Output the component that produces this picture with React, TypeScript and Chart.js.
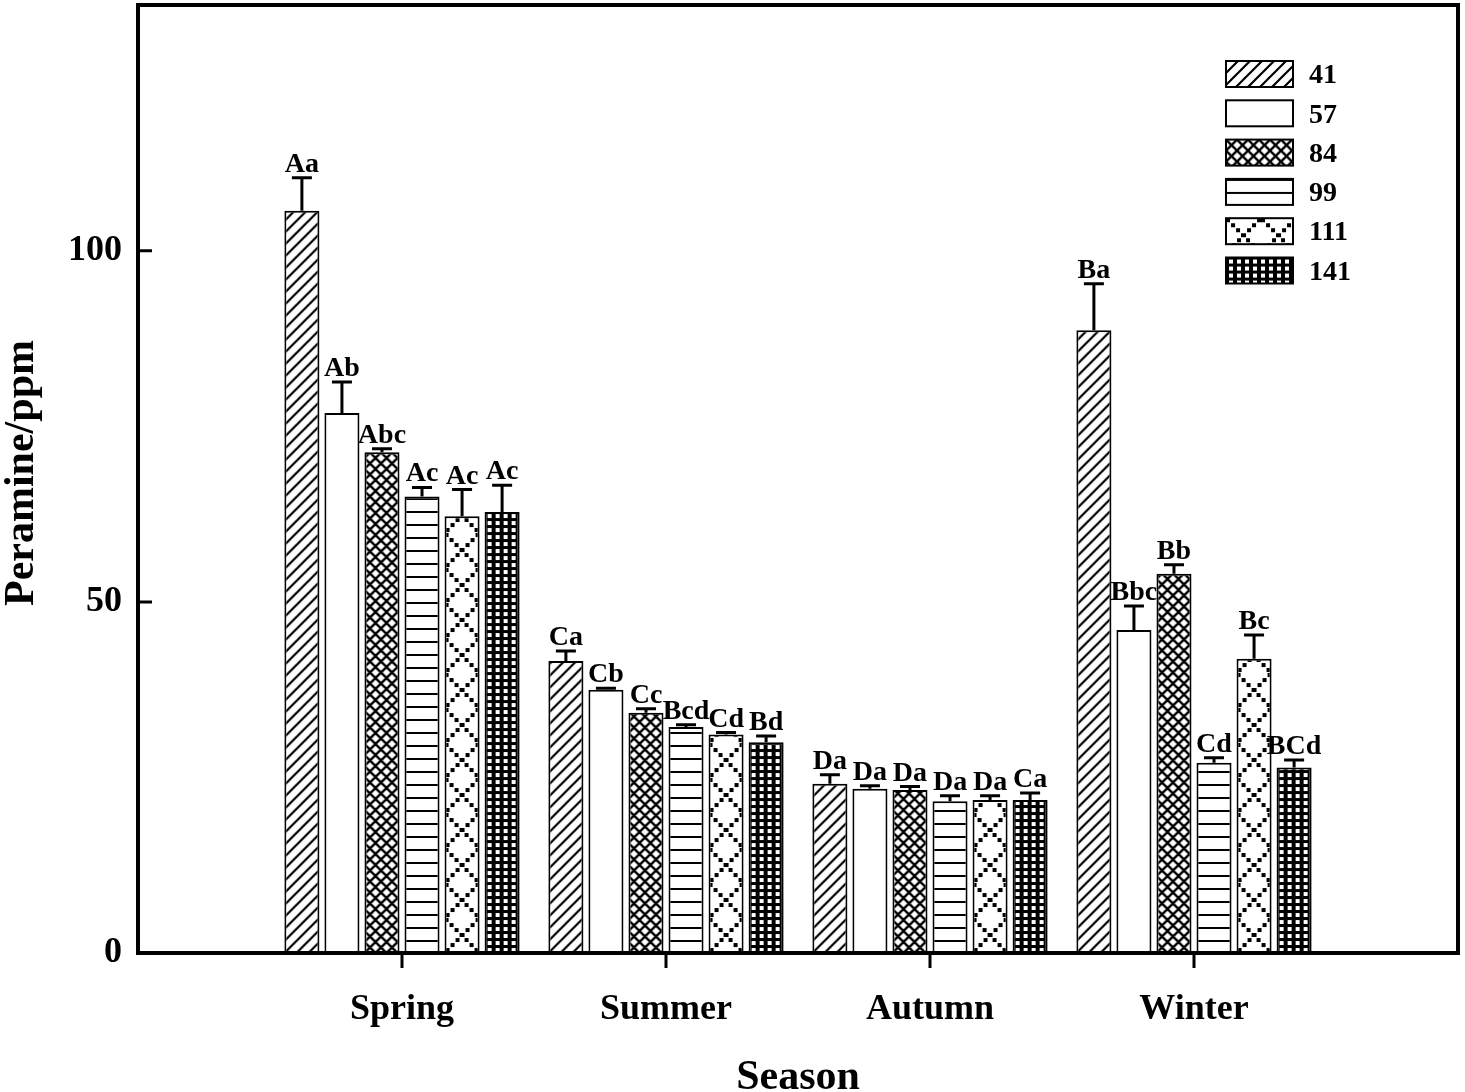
import { useEffect, useRef } from "react"
import { Chart, registerables } from "chart.js"

Chart.register(...registerables)

// categories padded with empty slots so the seasons sit at 1..4 of a 0..5 axis
const seasons = ["", "Spring", "Summer", "Autumn", "Winter", ""]
const seriesNames = ["41", "57", "84", "99", "111", "141"]

const values41 = [105.7, 41.6, 24.1, 88.7]
const values57 = [76.9, 37.5, 23.4, 46.0]
const values84 = [71.3, 34.2, 23.2, 54.0]
const values99 = [65.0, 32.2, 21.6, 27.1]
const values111 = [62.2, 31.1, 21.8, 41.9]
const values141 = [62.8, 30.0, 21.8, 26.4]

const errors41 = [4.7, 1.4, 1.3, 6.6]
const errors57 = [4.4, 0.2, 0.4, 3.4]
const errors84 = [0.5, 0.6, 0.5, 1.3]
const errors99 = [1.3, 0.3, 0.8, 0.7]
const errors111 = [3.8, 0.3, 0.6, 3.4]
const errors141 = [3.8, 0.9, 1.0, 1.1]

const letters41 = ["Aa", "Ca", "Da", "Ba"]
const letters57 = ["Ab", "Cb", "Da", "Bbc"]
const letters84 = ["Abc", "Cc", "Da", "Bb"]
const letters99 = ["Ac", "Bcd", "Da", "Cd"]
const letters111 = ["Ac", "Cd", "Da", "Bc"]
const letters141 = ["Ac", "Bd", "Ca", "BCd"]

const yTicks = [0, 50, 100]

const allValues = [values41, values57, values84, values99, values111, values141]
const allErrors = [errors41, errors57, errors84, errors99, errors111, errors141]
const allLetters = [letters41, letters57, letters84, letters99, letters111, letters141]

const FONT = "'Liberation Serif', 'Times New Roman', serif"
const CAT_PCT = 0.91
const BAR_PCT = 0.875

function makeTile(w: number, h: number, draw: (c: CanvasRenderingContext2D) => void) {
  const cv = document.createElement("canvas")
  cv.width = w
  cv.height = h
  draw(cv.getContext("2d")!)
  return cv
}

// one tile per series, null = plain white
function makeTiles(): (HTMLCanvasElement | null)[] {
  const diag = makeTile(12, 12, (c) => {
    c.fillStyle = "#fff"
    c.fillRect(0, 0, 12, 12)
    c.strokeStyle = "#000"
    c.lineWidth = 2.2
    c.beginPath()
    c.moveTo(-2, 14)
    c.lineTo(14, -2)
    c.moveTo(-2, 2)
    c.lineTo(2, -2)
    c.moveTo(10, 14)
    c.lineTo(14, 10)
    c.stroke()
  })
  const cross = makeTile(11, 11, (c) => {
    c.fillStyle = "#fff"
    c.fillRect(0, 0, 11, 11)
    c.strokeStyle = "#000"
    c.lineWidth = 2.4
    c.beginPath()
    c.moveTo(-1, -1)
    c.lineTo(12, 12)
    c.moveTo(12, -1)
    c.lineTo(-1, 12)
    c.stroke()
  })
  const horiz = makeTile(12, 13, (c) => {
    c.fillStyle = "#fff"
    c.fillRect(0, 0, 12, 13)
    c.fillStyle = "#000"
    c.fillRect(0, 0, 12, 2)
  })
  const lattice = makeTile(35, 35, (c) => {
    c.fillStyle = "#fff"
    c.fillRect(0, 0, 35, 35)
    c.fillStyle = "#000"
    for (let k = 0; k <= 30; k += 5) {
      c.fillRect(k, k, 4, 4)
      c.fillRect(31 - k, k, 4, 4)
    }
  })
  const grid = makeTile(8, 7, (c) => {
    c.fillStyle = "#000"
    c.fillRect(0, 0, 8, 7)
    c.fillStyle = "#fff"
    c.fillRect(3, 2, 4, 4)
  })
  return [diag, null, cross, horiz, lattice, grid]
}

function patternAt(ctx: CanvasRenderingContext2D, tile: HTMLCanvasElement | null, x: number, y: number) {
  if (!tile) return "#ffffff"
  const p = ctx.createPattern(tile, "repeat")!
  p.setTransform(new DOMMatrix([1, 0, 0, 1, x, y]))
  return p
}

function makeOverlay(tiles: (HTMLCanvasElement | null)[]) {
  return {
    id: "overlay",
    afterDatasetsDraw(chart: Chart) {
      const ctx = chart.ctx
      const y = chart.scales.y
      ctx.save()
      ctx.strokeStyle = "#000"
      ctx.fillStyle = "#000"
      ctx.font = `bold 28px ${FONT}`
      ctx.textAlign = "center"
      ctx.textBaseline = "alphabetic"
      chart.data.datasets.forEach((ds, i) => {
        const meta = chart.getDatasetMeta(i)
        meta.data.forEach((bar: any, j) => {
          const v = ds.data[j] as number | null
          if (v == null) return
          const err = allErrors[i][j - 1]
          const top = y.getPixelForValue(v + err)
          ctx.lineWidth = 3
          ctx.beginPath()
          ctx.moveTo(bar.x, bar.y)
          ctx.lineTo(bar.x, top)
          ctx.moveTo(bar.x - 10, top)
          ctx.lineTo(bar.x + 10, top)
          ctx.stroke()
          ctx.fillText(allLetters[i][j - 1], bar.x, top - 6)
        })
      })
      ctx.restore()
    },
    afterDraw(chart: Chart) {
      const ctx = chart.ctx
      const { left, right, top, bottom } = chart.chartArea
      const x = chart.scales.x
      const y = chart.scales.y
      ctx.save()
      ctx.strokeStyle = "#000"
      ctx.lineWidth = 4
      ctx.strokeRect(left, top, right - left, bottom - top)

      // inward y ticks
      ctx.lineWidth = 3
      ctx.beginPath()
      yTicks.forEach((t) => {
        const py = y.getPixelForValue(t)
        ctx.moveTo(left, py)
        ctx.lineTo(left + 14, py)
      })
      // outward x ticks at the seasons
      for (let k = 1; k <= 4; k++) {
        const px = x.getPixelForValue(k)
        ctx.moveTo(px, bottom)
        ctx.lineTo(px, bottom + 15)
      }
      ctx.stroke()

      // axis titles
      ctx.fillStyle = "#000"
      ctx.font = `bold 42px ${FONT}`
      ctx.textAlign = "center"
      ctx.textBaseline = "middle"
      ctx.fillText("Season", (left + right) / 2, 1078)
      ctx.save()
      ctx.translate(22, 473)
      ctx.rotate(-Math.PI / 2)
      ctx.fillText("Peramine/ppm", 0, 0)
      ctx.restore()

      // legend
      ctx.font = `bold 28px ${FONT}`
      ctx.textAlign = "left"
      seriesNames.forEach((name, i) => {
        const by = 61 + i * 39.3
        ctx.fillStyle = patternAt(ctx, tiles[i], 1226, by)
        ctx.fillRect(1226, by, 67, 26)
        ctx.lineWidth = 2
        ctx.strokeRect(1226, by, 67, 26)
        ctx.fillStyle = "#000"
        ctx.fillText(name, 1309, by + 15)
      })
      ctx.restore()
    },
  }
}

export default function App() {
  const chartRef = useRef<HTMLCanvasElement>(null)
  const chartInstance = useRef<Chart | null>(null)

  useEffect(() => {
    document.body.style.margin = "0"
    if (!chartRef.current) return
    if (chartInstance.current) chartInstance.current.destroy()
    const ctx = chartRef.current.getContext("2d")
    if (!ctx) return

    const tiles = makeTiles()

    // pattern anchored on each bar's left edge so the hatching lines up like the original
    const barFill = (i: number) => (c: any) => {
      const xs = c.chart.scales.x
      const ys = c.chart.scales.y
      if (!xs || !ys || c.dataIndex == null) return "#ffffff"
      const slot = ((xs.width / (seasons.length - 1)) * CAT_PCT) / seriesNames.length
      const cx = xs.getPixelForValue(c.dataIndex) + (i - (seriesNames.length - 1) / 2) * slot
      const left = cx - (slot * BAR_PCT) / 2
      return patternAt(c.chart.ctx, tiles[i], left, ys.bottom)
    }

    const zeroPadding = (s: any) => {
      s.paddingTop = 0
      s.paddingBottom = 0
      s.paddingLeft = 0
      s.paddingRight = 0
    }

    chartInstance.current = new Chart(ctx, {
      type: "bar",
      data: {
        labels: seasons,
        datasets: seriesNames.map((name, i) => ({
          label: name,
          data: [null, ...allValues[i], null],
          backgroundColor: barFill(i),
          borderColor: "#000",
          borderWidth: 2,
          borderSkipped: "bottom" as const,
          categoryPercentage: CAT_PCT,
          barPercentage: BAR_PCT,
        })),
      },
      options: {
        responsive: true,
        maintainAspectRatio: false,
        animation: false,
        layout: { padding: { left: 0, right: 7, top: 5, bottom: 0 } },
        plugins: {
          legend: { display: false },
          tooltip: { enabled: false },
        },
        scales: {
          x: {
            offset: false,
            grid: { display: false, drawTicks: false },
            border: { display: false },
            ticks: {
              color: "#000",
              padding: 35,
              autoSkip: false,
              maxRotation: 0,
              font: { family: FONT, size: 36, weight: "bold" },
            },
            afterFit: (s: any) => {
              s.height = 139
              zeroPadding(s)
            },
          },
          y: {
            min: 0,
            max: 135,
            grid: { display: false, drawTicks: false },
            border: { display: false },
            ticks: {
              stepSize: 50,
              includeBounds: false,
              color: "#000",
              padding: 16,
              font: { family: FONT, size: 36, weight: "bold" },
              callback: (v: any) => (yTicks.includes(v) ? String(v) : ""),
            },
            afterFit: (s: any) => {
              s.width = 138
              zeroPadding(s)
            },
          },
        },
      },
      plugins: [makeOverlay(tiles)],
    })

    return () => {
      if (chartInstance.current) {
        chartInstance.current.destroy()
        chartInstance.current = null
      }
    }
  }, [])

  return (
    <div style={{ width: "1465px", height: "1092px", position: "relative", background: "#fff" }}>
      <canvas ref={chartRef} />
    </div>
  )
}
